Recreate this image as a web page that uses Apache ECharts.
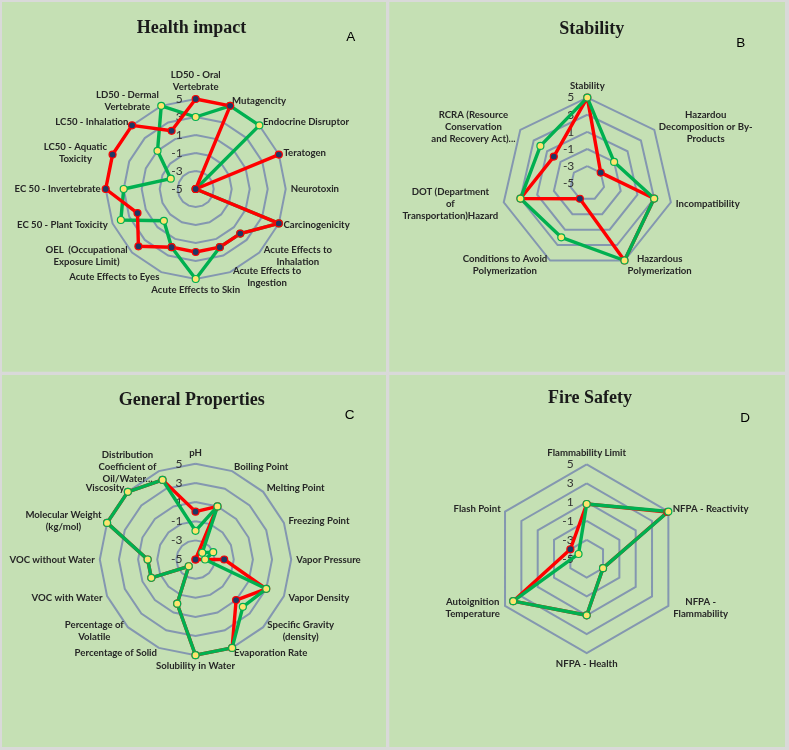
<!DOCTYPE html>
<html><head><meta charset="utf-8">
<script src="https://cdn.jsdelivr.net/npm/echarts@6/dist/echarts.min.js"></script>
<style>html,body{margin:0;padding:0;background:#d9d9d9}#c{width:789px;height:750px}</style>
</head><body><div id="c"></div><script>
// ---- Data (clockwise from top, as in the reference) ----
const ringTicks = [-5, -3, -1, 1, 3, 5];

const healthAxes = ['LD50 - Oral\nVertebrate','Mutagencity','Endocrine Disruptor','Teratogen','Neurotoxin','Carcinogenicity','Acute Effects to\nInhalation','Acute Effects to\nIngestion','Acute Effects to Skin','Acute Effects to Eyes','OEL  (Occupational\nExposure Limit)','EC 50 - Plant Toxicity','EC 50 - Invertebrate','LC50 - Aquatic\nToxicity','LC50 - Inhalation','LD50 - Dermal\nVertebrate'];
const healthRed   = [5, 5, -5, 5, -5, 5, 2, 2, 2, 2, 4, 2, 5, 5, 5, 2];
const healthGreen = [3, 5, 5, -5, -5, 5, 2, 2, 5, 2, 0, 4, 3, -2, 1, 5];

const stabilityAxes = ['Stability','Hazardou\nDecomposition or By-\nProducts','Incompatibility','Hazardous\nPolymerization','Conditions to Avoid\nPolymerization','DOT (Department\nof\nTransportation)Hazard','RCRA (Resource\nConservation\nand Recovery Act)...'];
const stabilityRed   = [5, -3, 3, 5, -3, 3, 0];
const stabilityGreen = [5, -1, 3, 5, 2, 3, 2];

const generalAxes = ['pH','Boiling Point','Melting Point','Freezing Point','Vapor Pressure','Vapor Density','Specific Gravity\n(density)','Evaporation Rate','Solubility in Water','Percentage of Solid','Percentage of\nVolatile','VOC with Water','VOC without Water','Molecular Weight\n(kg/mol)','Viscosity','Distribution\nCoefficient of\nOil/Water...'];
const generalRed   = [0, 1, -5, -5, -2, 3, 1, 5, 5, 0, -4, 0, 0, 5, 5, 4];
const generalGreen = [-2, 1, -4, -3, -4, 3, 2, 5, 5, 0, -4, 0, 0, 5, 5, 4];

const fireAxes = ['Flammability Limit','NFPA - Reactivity','NFPA -\nFlammability','NFPA - Health','Autoignition\nTemperature','Flash Point'];
const fireRed   = [0.8, 4.9, -3, 1, 4, -3];
const fireGreen = [0.8, 5, -3, 1, 4, -4];

// ---- helpers ----
// ECharts radar runs counter-clockwise; reorder so the picture runs clockwise.
function cw(arr){ return arr.map((_, j) => arr[(arr.length - j) % arr.length]); }

const NAME_SIZE = 9.6;
const measureCtx = document.createElement('canvas').getContext('2d');
measureCtx.font = 'bold ' + NAME_SIZE + 'px Lato';
const richStyles = {};
// Multi-line names: centre each line inside the block, like the original.
function centeredName(name){
  const lines = name.split('\n');
  if (lines.length === 1) return name;
  const w = Math.ceil(Math.max.apply(null, lines.map(l => measureCtx.measureText(l).width))) + 1;
  const key = 'w' + w;
  richStyles[key] = {width: w, align: 'center', fontFamily:'Lato', fontWeight:'bold', fontSize:NAME_SIZE, color:'#262626', lineHeight:12};
  return lines.map(l => '{' + key + '|' + l + '}').join('\n');
}

const panels = [
  {title:'Health impact', letter:'A', axes:healthAxes, red:healthRed, green:healthGreen, center:[195.7,189], r:90, greenTop:false,
   box:[2,2,384,369.7], titlePos:[191.5,28], letterPos:[350.8,37.5]},
  {title:'Stability', letter:'B', axes:stabilityAxes, red:stabilityRed, green:stabilityGreen, center:[587.3,183.3], r:85.7, greenTop:true,
   box:[389.3,2,395.7,369.7], titlePos:[591.7,29.5], letterPos:[740.8,43.7]},
  {title:'General Properties', letter:'C', axes:generalAxes, red:generalRed, green:generalGreen, center:[195.5,559.5], r:95.7, greenTop:true,
   box:[2,375,384,372], titlePos:[191.7,400], letterPos:[349.5,415.3]},
  {title:'Fire Safety', letter:'D', axes:fireAxes, red:fireRed, green:fireGreen, center:[586.7,558.7], r:94.3, greenTop:true,
   box:[389.3,375,395.7,372], titlePos:[590,398.3], letterPos:[745,418]}
];

const NAVY = '#1F3864', RED = '#FF0000', GREEN = '#00B050', YELLOW = '#FFE36E';

const radars = panels.map(p => ({
  center: p.center,
  radius: p.r,
  startAngle: 90,
  shape: 'polygon',
  splitNumber: ringTicks.length - 1,
  nameGap: 5,
  axisName: {color:'#262626', fontFamily:'Lato', fontWeight:'bold', fontSize:NAME_SIZE, lineHeight:12, rich: richStyles},
  splitLine: {lineStyle:{color:'#8497B0', width:2}},
  splitArea: {show:false},
  axisLine: {show:false},
  axisTick: {show:false},
  axisLabel: {show:false},
  indicator: cw(p.axes).map((name, j) => {
    const ind = {name: centeredName(name), min: ringTicks[0], max: ringTicks[ringTicks.length-1]};
    if (j === 0) ind.axisLabel = {show:true, color:'#333', fontFamily:'Lato', fontSize:12, margin:13, showMinLabel:true, showMaxLabel:true};
    return ind;
  })
}));

const series = [];
panels.forEach((p, i) => {
  const redS = {type:'radar', radarIndex:i, symbol:'circle', symbolSize:7,
    lineStyle:{color:RED, width:3.4}, itemStyle:{color:NAVY, borderColor:RED, borderWidth:1.2},
    data:[{value:cw(p.red), name:'red'}], silent:true};
  const greenS = {type:'radar', radarIndex:i, symbol:'circle', symbolSize:7,
    lineStyle:{color:GREEN, width:3.4}, itemStyle:{color:YELLOW, borderColor:GREEN, borderWidth:1.2},
    data:[{value:cw(p.green), name:'green'}], silent:true};
  if (p.greenTop) { series.push(redS, greenS); } else { series.push(greenS, redS); }
});

const graphics = [];
panels.forEach(p => {
  graphics.push({type:'rect', z:-10, shape:{x:p.box[0], y:p.box[1], width:p.box[2], height:p.box[3]}, style:{fill:'#C5E0B4'}, silent:true});
  graphics.push({type:'text', x:p.titlePos[0], y:p.titlePos[1], style:{text:p.title, fill:'#1a1a1a', font:'bold 18px "Liberation Serif"', textAlign:'center', textVerticalAlign:'middle'}});
  graphics.push({type:'text', x:p.letterPos[0], y:p.letterPos[1], style:{text:p.letter, fill:'#000', font:'13.5px "Liberation Sans"', textAlign:'center', textVerticalAlign:'middle'}});
});

const chart = echarts.init(document.getElementById('c'), null, {renderer:'canvas'});
chart.setOption({
  backgroundColor:'#d9d9d9',
  animation:false,
  graphic: graphics,
  radar: radars,
  series: series
});
</script></body></html>
